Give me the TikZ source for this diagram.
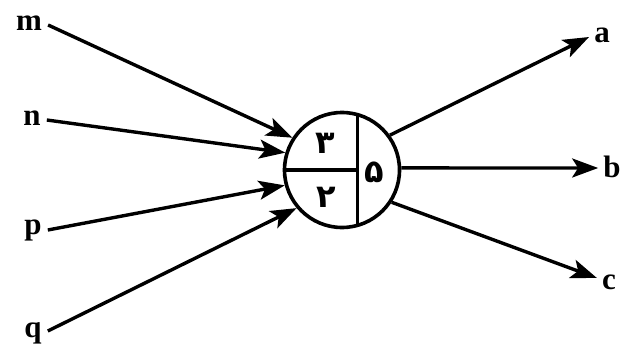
\documentclass[tikz,border=0pt]{standalone}
\usepackage{fontspec}
\setmainfont{Liberation Serif}
\newfontfamily\persfont[Script=Arabic]{DejaVu Sans}
\usetikzlibrary{arrows.meta,calc}
\TeXXeTstate=1
\begin{document}
\begin{tikzpicture}[x=1pt,y=1pt,
  lbl/.style={font=\fontsize{31}{31}\selectfont\bfseries, inner sep=0pt},
  dig/.style={font=\persfont\bfseries\fontsize{32}{32}\selectfont, inner sep=0pt},
  arr/.style={line width=3.4pt, -{Stealth[length=26pt,width=19pt,inset=6pt]}},
  part/.style={line width=3.4pt}]
\useasboundingbox (0,0) rectangle (620,354);
\node[circle, draw, line width=3.6pt, minimum size=115pt, inner sep=0pt] (cc) at (342,184) {};
\node[lbl] (m) at (29,331) {m};
\node[lbl] (n) at (32,236) {n};
\node[lbl] (p) at (33,124) {p};
\node[lbl] (q) at (33,21) {q};
\node[lbl] (a) at (602,319) {a};
\node[lbl] (b) at (612,187) {b};
\node[lbl] (c) at (609,72) {c};
\coordinate (vt) at (cc.75.8);
\coordinate (vb) at (cc.-75.8);
\draw[part] (vt) -- (vb);
\draw[part] (cc.180) -- (cc.center -| vt);
\node[dig] (d3) at (325,211) {\beginR ۳\endR};
\node[dig] (d2) at (326,157) {\beginR ۲\endR};
\node[dig] (d5) at (374,182) {\beginR ۵\endR};
\draw[arr] (m.east) ++(6,-2) -- (cc.147);
\draw[arr] (n.east) ++(6,-2) -- (cc.163);
\draw[arr] (p.east) ++(6,0) -- (cc.195);
\draw[arr] (q.east) ++(6,2) -- (cc.220);
\draw[arr] (cc.36) -- ($(a.west)+(-5,-2)$);
\draw[arr] (cc.2) -- ($(b.west)+(-5,-1)$);
\draw[arr] (cc.-33) -- ($(c.west)+(-5,4)$);
\end{tikzpicture}
\end{document}
